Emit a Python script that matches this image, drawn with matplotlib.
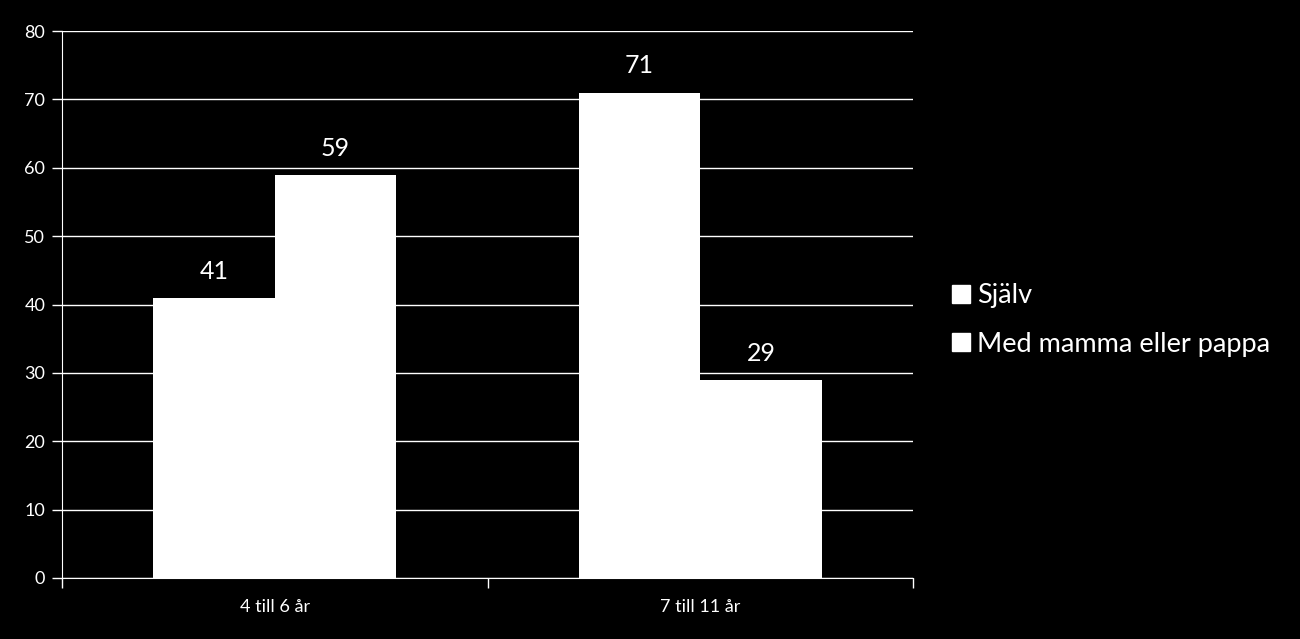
import numpy as np
import matplotlib.pyplot as plt
from matplotlib.patches import Patch

categories = ['4 till 6 år', '7 till 11 år']
series_names = ['Själv', 'Med mamma eller pappa']
sjalv = [41, 71]
med_foralder = [59, 29]

plt.rcParams['font.family'] = ['Lato', 'DejaVu Sans']

fig = plt.figure(figsize=(13, 6.39), dpi=100, facecolor='black')
ax = fig.add_axes([62/1300, 61/639, 851/1300, 547/639])
ax.set_facecolor('black')

x = np.arange(len(categories))
w = 0.286
b1 = ax.bar(x - w/2, sjalv, w, color='white', label=series_names[0], zorder=3)
b2 = ax.bar(x + w/2, med_foralder, w, color='white', label=series_names[1], zorder=3)

for bars in (b1, b2):
    for rect in bars:
        h = rect.get_height()
        ax.text(rect.get_x() + rect.get_width()/2, h + 2.2, "%d" % h,
                ha='center', va='bottom', color='white', fontsize=18)

ax.set_xlim(-0.5, 1.5)
ax.set_ylim(0, 80)
ax.set_yticks(range(0, 81, 10))
ax.yaxis.grid(True, color='white', linewidth=1, zorder=0)
ax.set_xticks([-0.5, 0.5, 1.5])
ax.set_xticklabels([])
ax.set_xticks(x, minor=True)
ax.set_xticklabels(categories, minor=True)
ax.tick_params(axis='x', which='minor', length=0, pad=15, colors='white', labelsize=13)
ax.tick_params(axis='x', which='major', length=7, color='white', width=1)
ax.tick_params(axis='y', length=7, color='white', width=1, pad=5,
               labelcolor='white', labelsize=13)

for s in ['top', 'right']:
    ax.spines[s].set_visible(False)
ax.spines['left'].set_color('white')
ax.spines['bottom'].set_color('white')

handles = [Patch(facecolor='white', edgecolor='white'),
           Patch(facecolor='white', edgecolor='white')]
leg = fig.legend(handles, series_names, loc='center left',
                 bbox_to_anchor=(928/1300, 1 - 320/639), frameon=False,
                 fontsize=19.5, labelcolor='white', handlelength=0.65,
                 handleheight=0.65, handletextpad=0.25, labelspacing=0.85)

fig.savefig('out.png', dpi=100, facecolor='black')
